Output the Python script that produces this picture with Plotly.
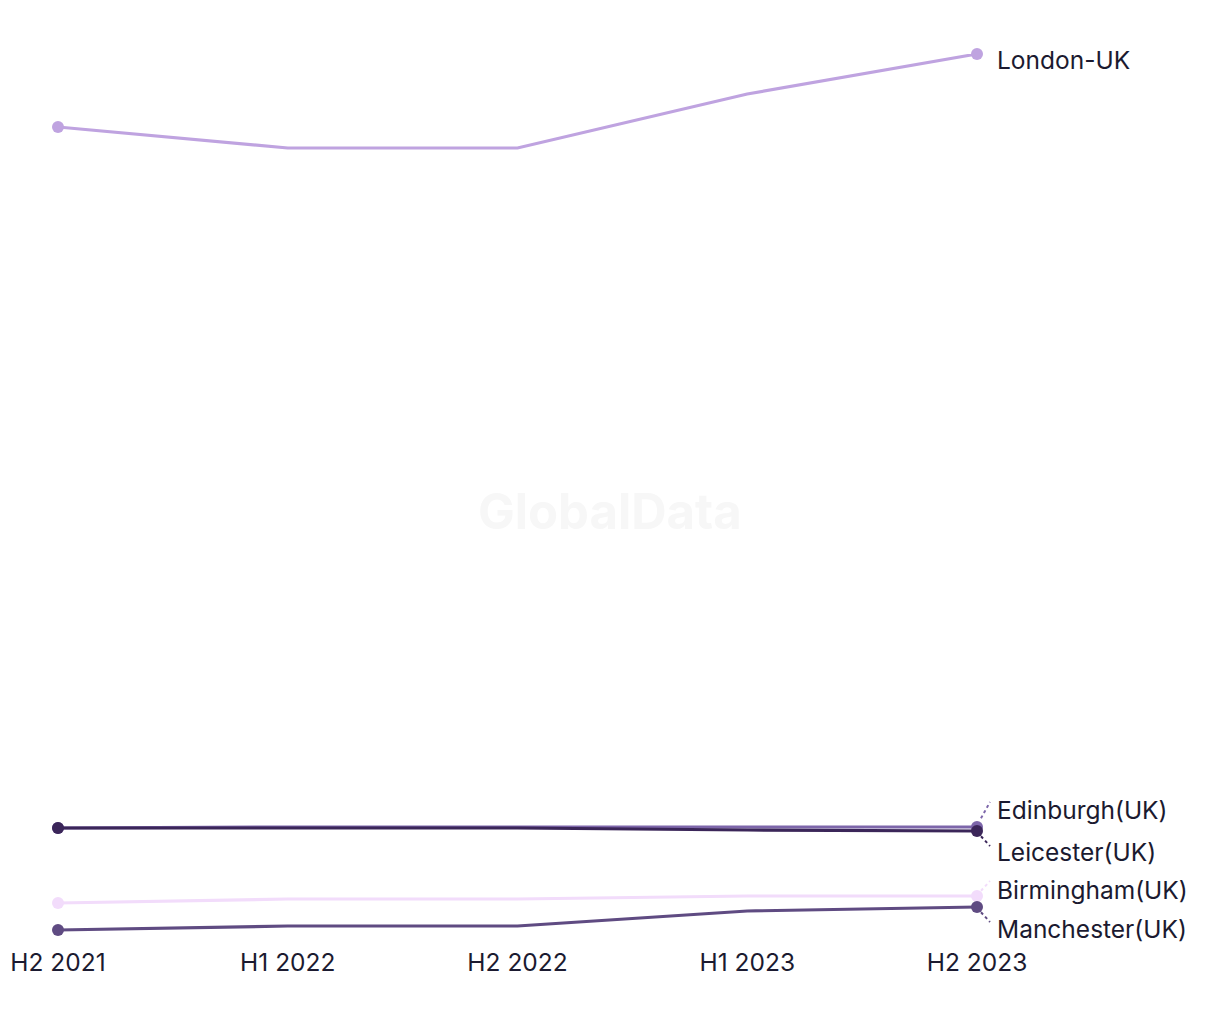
import plotly.graph_objects as go

periods = ["H2 2021", "H1 2022", "H2 2022", "H1 2023", "H2 2023"]
series_names = ["London-UK", "Edinburgh(UK)", "Leicester(UK)", "Birmingham(UK)", "Manchester(UK)"]
london = [818, 797, 797, 851, 891]
edinburgh = [117, 118, 118, 118, 118]
leicester = [117, 117, 117, 115, 114]
birmingham = [42, 46, 46, 49, 49]
manchester = [15, 19, 19, 34, 38]

values = [london, edinburgh, leicester, birmingham, manchester]
colors = ["#bfa3e0", "#7d66aa", "#3b2659", "#f2dcfb", "#5f4b82"]
label_dy = [-6, 17, -21, 6, -22]
leader = [None, (13, 25), (13, -15), (13, 15), (13, -15)]

W, H = 1220, 1020
ML, MR, MT, MB = 50, 251, 46, 83
YMAX = 891
PW = W - ML - MR
PH = H - MT - MB

xs = list(range(len(periods)))
fig = go.Figure()
for name, vals, col in zip(series_names, values, colors):
    fig.add_trace(go.Scatter(
        x=xs, y=vals, mode="lines+markers", name=name,
        line=dict(color=col, width=3.2),
        marker=dict(size=[12, 0, 0, 0, 12], color=col, opacity=1, line=dict(width=0)),
        cliponaxis=False, hoverinfo="skip"))

shapes = []
annotations = []
for name, vals, col, dy, ld in zip(series_names, values, colors, label_dy, leader):
    annotations.append(dict(
        x=xs[-1], y=vals[-1], xref="x", yref="y", text=name, showarrow=False,
        xanchor="left", yanchor="middle", xshift=18, yshift=dy,
        font=dict(family="Inter, sans-serif", size=24.5, color="#1b1a30")))
    if ld:
        yp = vals[-1] / YMAX
        shapes.append(dict(
            type="line", xref="paper", yref="paper",
            x0=1 + 4 / PW, y0=yp + (ld[1] * 0.35) / PH,
            x1=1 + ld[0] / PW, y1=yp + ld[1] / PH,
            line=dict(color=col, width=2, dash="dot")))

annotations.append(dict(
    x=0.6007, y=0.486, xref="paper", yref="paper", text="<b>GlobalData</b>",
    showarrow=False, font=dict(family="Inter, sans-serif", size=49, color="#f7f7f7")))

fig.update_layout(
    width=W, height=H,
    margin=dict(l=ML, r=MR, t=MT, b=MB),
    plot_bgcolor="white", paper_bgcolor="white",
    showlegend=False,
    shapes=shapes, annotations=annotations,
    xaxis=dict(range=[0, 4], tickvals=xs, ticktext=periods, showgrid=False,
               zeroline=False, showline=False, ticks="", automargin=False,
               tickfont=dict(family="Inter, sans-serif", size=24.5, color="#1b1a30")),
    yaxis=dict(range=[0, YMAX], showgrid=False, zeroline=False, showline=False,
               showticklabels=False, ticks="", automargin=False),
)
fig.write_html("out.html")
